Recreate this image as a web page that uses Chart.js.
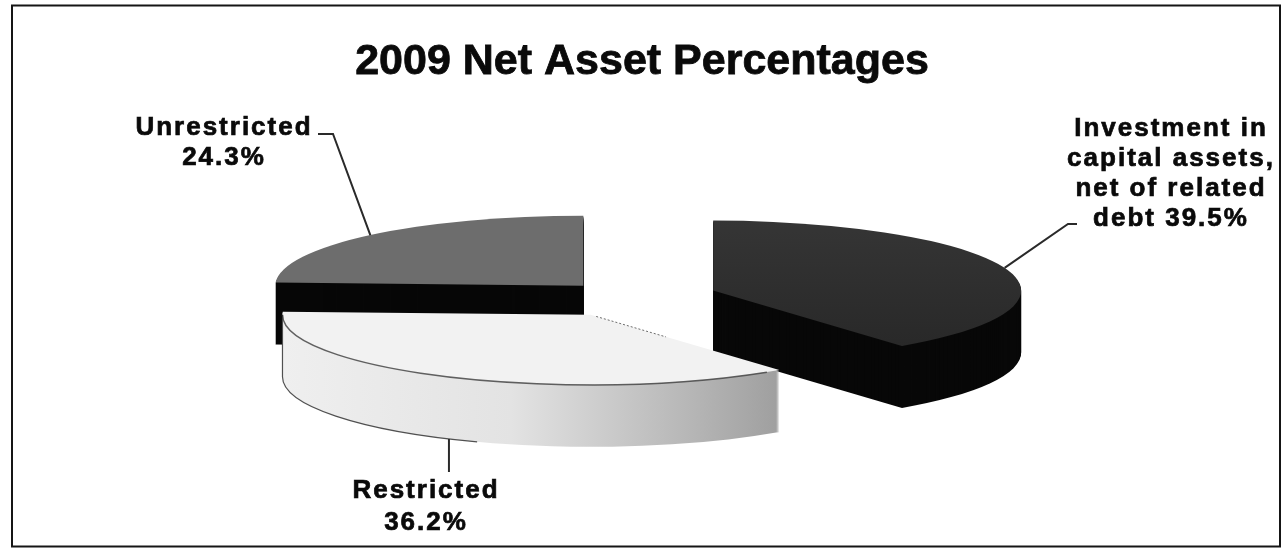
<!DOCTYPE html>
<html><head><meta charset="utf-8">
<script src="https://cdn.jsdelivr.net/npm/chart.js@4"></script>
<style>html,body{margin:0;padding:0;background:#fff;}#wrap{width:1286px;height:556px;position:relative;}</style>
</head><body><div id="wrap"><canvas id="c"></canvas></div>
<script>
// ---- data ----
const chartTitle = '2009 Net Asset Percentages';
const categories = ['Investment in capital assets, net of related debt', 'Restricted', 'Unrestricted'];
const labelLines = [['Investment in', 'capital assets,', 'net of related', 'debt'], ['Restricted'], ['Unrestricted']];
const percentages = [39.5, 36.2, 24.3];

// ---- styles ----
const topColors = ['#2e2e2e', '#f2f2f2', '#6d6d6d'];
const FONT = '"Liberation Sans", Arial, sans-serif';

const pie3d = {
  id: 'pie3d',
  beforeDatasetsDraw(chart, args, o) {
    const ctx = chart.ctx;
    const meta = chart.getDatasetMeta(0);
    const geo = meta.data.map((el, i) => {
      const p = el.getProps(['x', 'y', 'startAngle', 'endAngle', 'outerRadius'], true);
      const rx = p.outerRadius * o.scaleX, ry = p.outerRadius * o.scaleY;
      const m = (p.startAngle + p.endAngle) / 2;
      const ex = o.explode[i];
      return { cx: p.x + Math.cos(m) * ex * rx, cy: p.y + Math.sin(m) * ex * ry, rx, ry, s: p.startAngle, e: p.endAngle, m };
    });
    chart.$pie3d = geo;
    const path = (g, dy) => {
      ctx.beginPath();
      ctx.moveTo(g.cx, g.cy + dy);
      ctx.ellipse(g.cx, g.cy + dy, g.rx, g.ry, 0, g.s, g.e);
      ctx.closePath();
    };
    ctx.save();
    o.order.forEach(i => {
      const g = geo[i];
      // side (extrusion)
      if (i === 1) {
        const gr = ctx.createLinearGradient(g.cx - g.rx, 0, g.cx + g.rx * 0.65, 0);
        gr.addColorStop(0, '#efefef');
        gr.addColorStop(0.45, '#e3e3e3');
        gr.addColorStop(0.75, '#bdbdbd');
        gr.addColorStop(1, '#9c9c9c');
        ctx.fillStyle = gr;
      } else {
        ctx.fillStyle = o.sideColors[i];
      }
      for (let d = o.depth; d >= 1; d--) { path(g, d); ctx.fill(); }
      // top face
      path(g, 0);
      if (i === 0) {
        const gr = ctx.createLinearGradient(0, g.cy - g.ry, 0, g.cy + g.ry);
        gr.addColorStop(0, '#353535');
        gr.addColorStop(1, '#272727');
        ctx.fillStyle = gr;
      } else {
        ctx.fillStyle = chart.data.datasets[0].backgroundColor[i];
      }
      ctx.fill();
      if (i === 1) {
        ctx.strokeStyle = 'rgba(70,70,70,0.85)';
        ctx.lineWidth = 1.5;
        ctx.beginPath();
        ctx.ellipse(g.cx, g.cy, g.rx, g.ry, 0, g.s + 0.05, Math.PI);
        ctx.stroke();
        ctx.strokeStyle = 'rgba(40,40,40,0.8)';
        ctx.lineWidth = 1.2;
        ctx.beginPath();
        ctx.moveTo(g.cx - g.rx, g.cy);
        ctx.lineTo(g.cx - g.rx, g.cy + o.depth);
        ctx.ellipse(g.cx, g.cy + o.depth, g.rx, g.ry, 0, Math.PI, Math.PI * 0.62, true);
        ctx.stroke();
        // dotted cut edge along the top face
        ctx.strokeStyle = 'rgba(50,50,50,0.7)';
        ctx.lineWidth = 1;
        ctx.setLineDash([2, 2]);
        ctx.beginPath();
        ctx.moveTo(g.cx + Math.cos(g.s) * g.rx * 0.03, g.cy + Math.sin(g.s) * g.ry * 0.03);
        ctx.lineTo(g.cx + Math.cos(g.s) * g.rx * 0.4, g.cy + Math.sin(g.s) * g.ry * 0.4);
        ctx.stroke();
        ctx.setLineDash([]);
      }
    });
    ctx.restore();
    return false;
  },
  afterDraw(chart, args, o) {
    const ctx = chart.ctx;
    const geo = chart.$pie3d;
    if (!geo) return;
    ctx.save();
    // frame
    ctx.strokeStyle = '#151515';
    ctx.lineWidth = 2;
    ctx.strokeRect(12, 5.5, 1268, 541);
    // title
    ctx.fillStyle = '#0a0a0a';
    ctx.strokeStyle = '#0a0a0a';
    ctx.textAlign = 'center';
    ctx.textBaseline = 'alphabetic';
    ctx.font = 'bold 43px ' + FONT;
    ctx.lineWidth = 0.8;
    ctx.fillText(chartTitle, 642, 74);
    ctx.strokeText(chartTitle, 642, 74);
    // labels
    ctx.font = 'bold 26px ' + FONT;
    try { ctx.letterSpacing = '2px'; } catch (e) {}
    o.labels.forEach((L, i) => {
      const g = geo[i];
      const ex = g.cx + Math.cos(g.m) * g.rx;
      let ey = g.cy + Math.sin(g.m) * g.ry;
      if (Math.sin(g.m) > 0.3) ey += o.depth;
      // leader
      ctx.strokeStyle = '#2a2a2a';
      ctx.lineWidth = 2;
      ctx.beginPath();
      const pts = L.leader.map(p => [p[0] === null ? ex : p[0], p[1]]);
      ctx.moveTo(pts[0][0], pts[0][1]);
      for (let k = 1; k < pts.length; k++) ctx.lineTo(pts[k][0], pts[k][1]);
      ctx.lineTo(ex, ey);
      ctx.stroke();
      // text
      const lines = labelLines[i].slice();
      const pct = percentages[i].toFixed(1) + '%';
      if (L.inline) lines[lines.length - 1] += ' ' + pct; else lines.push(pct);
      ctx.strokeStyle = '#0a0a0a';
      ctx.lineWidth = 0.7;
      lines.forEach((t, k) => { ctx.fillText(t, L.x, L.y + k * L.lh); ctx.strokeText(t, L.x, L.y + k * L.lh); });
    });
    ctx.restore();
  }
};

new Chart(document.getElementById('c'), {
  type: 'pie',
  data: {
    labels: categories,
    datasets: [{ data: percentages, backgroundColor: topColors, borderWidth: 0 }]
  },
  options: {
    responsive: true,
    maintainAspectRatio: false,
    animation: false,
    events: [],
    layout: { padding: { left: 300, right: 324, top: 140, bottom: 102 } },
    plugins: {
      legend: { display: false },
      tooltip: { enabled: false },
      title: { display: false },
      pie3d: {
        scaleX: 1.962,
        scaleY: 0.446,
        depth: 62,
        explode: [0.282, 0.286, 0.224],
        order: [2, 0, 1],
        sideColors: ['#080808', '#d0d0d0', '#070707'],
        labels: [
          { x: 1171, y: 136, lh: 30, inline: true, leader: [[1077, 224], [1068, 224]] },
          { x: 426, y: 498, lh: 32, inline: false, leader: [[null, 472]] },
          { x: 224, y: 135, lh: 30, inline: false, leader: [[318, 134], [333, 134]] }
        ]
      }
    }
  },
  plugins: [pie3d]
});
</script>
</body></html>
